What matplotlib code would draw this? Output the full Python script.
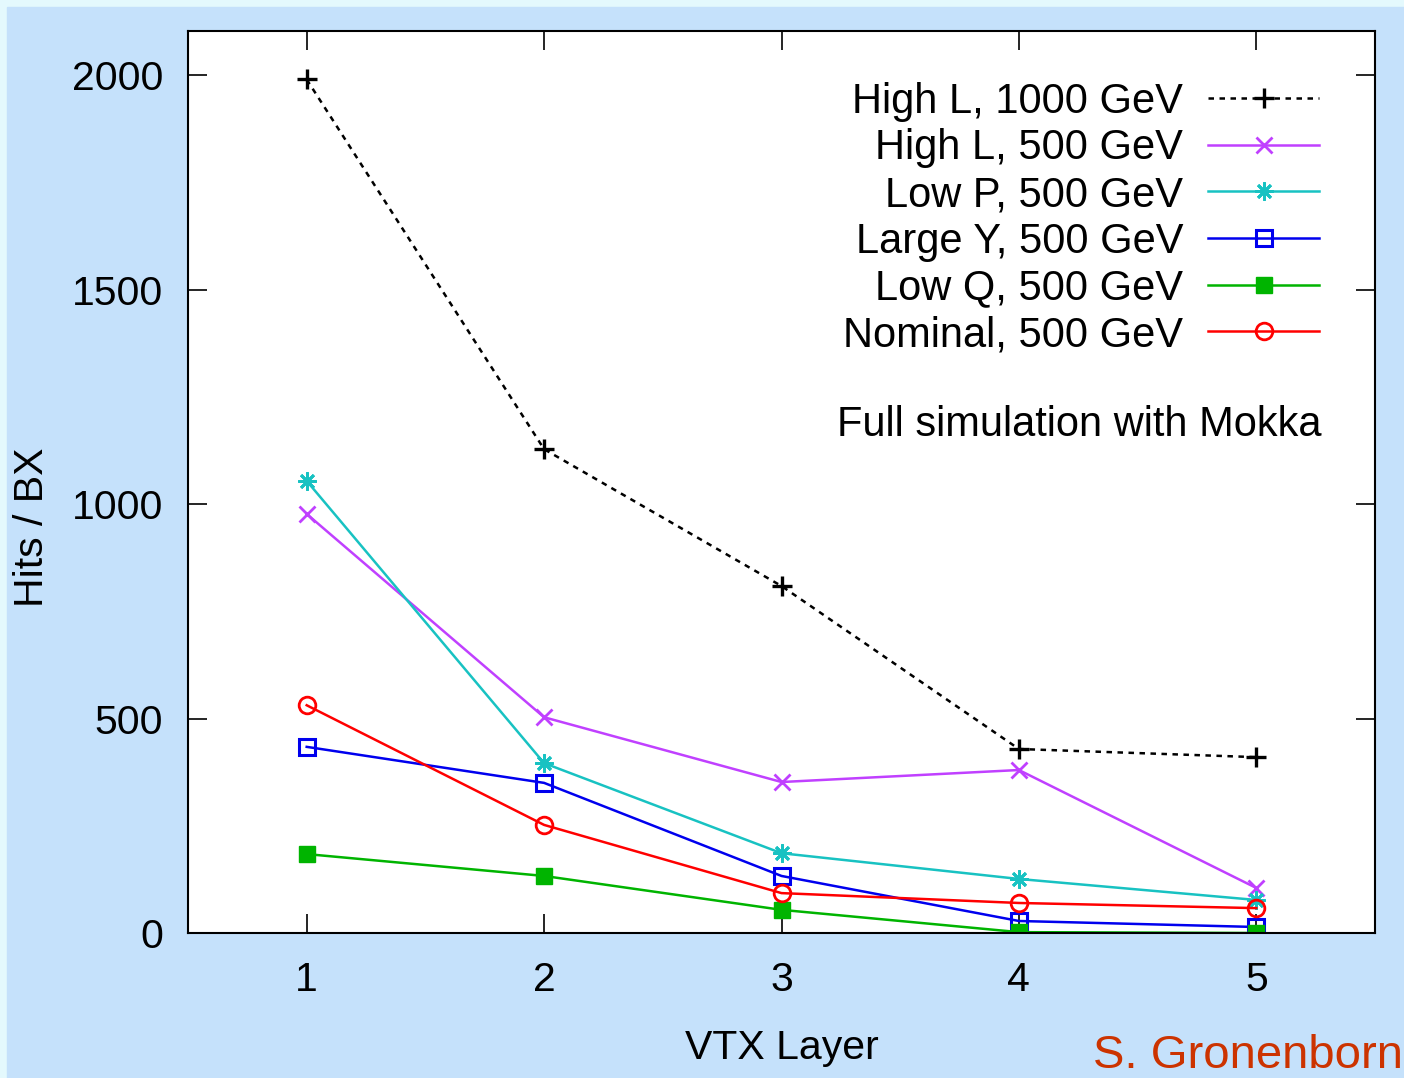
import matplotlib
matplotlib.use("Agg")
import matplotlib.pyplot as plt
from matplotlib.patches import Rectangle

plt.rcParams["font.family"] = ["Liberation Sans", "DejaVu Sans"]

layers = [1, 2, 3, 4, 5]

high_l_1000 = [1990, 1128, 809, 429, 410]
high_l_500 = [977, 503, 352, 380, 105]
low_p_500 = [1054, 396, 186, 126, 77]
large_y_500 = [434, 350, 133, 28, 14]
low_q_500 = [184, 133, 54, 2, 0]
nominal_500 = [531, 252, 93, 70, 58]

labels = [
    "High L, 1000 GeV",
    "High L, 500 GeV",
    "Low P, 500 GeV",
    "Large Y, 500 GeV",
    "Low Q, 500 GeV",
    "Nominal, 500 GeV",
]

fig = plt.figure(figsize=(14.04, 10.78), dpi=100)
fig.patch.set_facecolor("#e4f9fd")
# textured blue slide background, kept behind the axes
fig.patches.append(Rectangle((7 / 1404, 0), 1, 1 - 7 / 1078,
                             transform=fig.transFigure, color="#c5e1fb",
                             zorder=-10))

ax = fig.add_axes([188 / 1404, 145 / 1078, 1187 / 1404, 902 / 1078])
ax.set_facecolor("white")

lw = 1.8
ax.plot(layers, high_l_1000, color="black", ls=(0, (2.2, 2.2)), lw=lw,
        marker="+", ms=14, mew=2.4, label=labels[0])
ax.plot(layers, high_l_500, color="#c040ff", lw=lw,
        marker="x", ms=11, mew=2.0, label=labels[1])
ax.plot(layers, low_p_500, color="#18c2c2", lw=lw,
        marker=(8, 2, 0), ms=13, mew=2.0, label=labels[2])
ax.plot(layers, large_y_500, color="#0000ee", lw=lw,
        marker="s", ms=12, mew=2.2, mfc="none", label=labels[3])
ax.plot(layers, low_q_500, color="#00b400", lw=lw,
        marker="s", ms=12, mew=1, label=labels[4])
ax.plot(layers, nominal_500, color="#ff0000", lw=lw,
        marker="o", ms=12, mew=2.0, mfc="none", label=labels[5])

ax.set_xlim(0.5, 5.5)
ax.set_ylim(0, 2103)
ax.set_xticks(layers)
ax.set_yticks([0, 500, 1000, 1500, 2000])

ax.tick_params(direction="in", length=14, width=1.2, top=True, right=True,
               labelsize=29.5, pad=18)
ax.tick_params(axis="x", pad=20)
for s in ax.spines.values():
    s.set_linewidth(1.5)

ax.set_xlabel("VTX Layer", fontsize=29.5, labelpad=22)
ax.set_ylabel("Hits / BX", fontsize=29.5)
ax.yaxis.set_label_coords(-0.115, 0.45)

leg = ax.legend(loc="upper right", frameon=False, markerfirst=False,
                fontsize=30, handlelength=2.66, handletextpad=0.6,
                labelspacing=0.16, borderaxespad=0.6,
                bbox_to_anchor=(0.988, 0.99))

ax.text(0.955, 0.563, "Full simulation with Mokka", transform=ax.transAxes,
        ha="right", va="center", fontsize=30)

fig.text(0.999, 0.0, "S. Gronenborn", color="#cc3300", fontsize=34,
         ha="right", va="bottom")

fig.savefig("out.png", dpi=100, facecolor=fig.get_facecolor())
